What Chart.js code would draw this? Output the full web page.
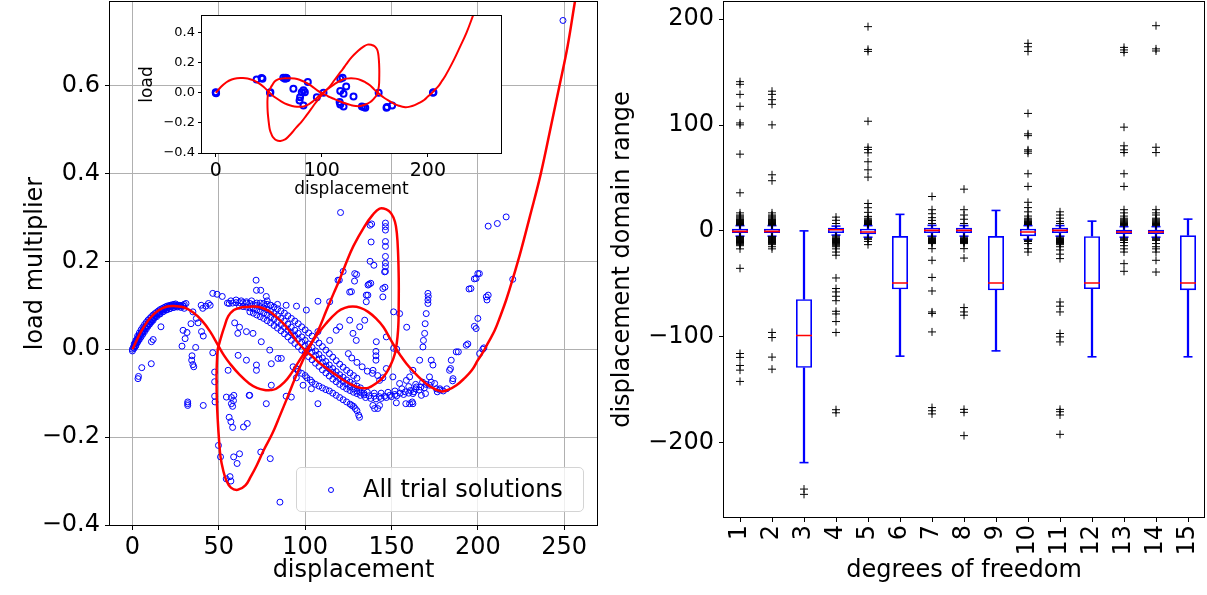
<!DOCTYPE html>
<html><head><meta charset="utf-8">
<script src="https://cdn.jsdelivr.net/npm/chart.js@4/dist/chart.umd.min.js"></script>
<style>
html,body{margin:0;padding:0;background:#fff;}
body{width:1207px;height:595px;position:relative;overflow:hidden;font-family:'DejaVu Sans';}
.layer{position:absolute;left:0;top:0;width:1207px;height:595px;}
#legend{position:absolute;left:296px;top:467px;width:288px;height:45px;box-sizing:border-box;border:1px solid #d4d4d4;border-radius:5px;background:rgba(255,255,255,0.8);}
#legend .mk{position:absolute;left:31px;top:19px;width:6px;height:6px;border:1px solid #0000ff;border-radius:50%;box-sizing:border-box;}
#legend .lt{position:absolute;left:66px;top:6px;font:24px 'DejaVu Sans';color:#000;line-height:30px;white-space:nowrap;}
</style></head><body>
<div class="layer"><canvas id="leftChart"></canvas></div>
<div class="layer"><canvas id="insetChart"></canvas></div>
<div id="legend"><span class="mk"></span><span class="lt" id="legendText"></span></div>
<div class="layer"><canvas id="rightChart"></canvas></div>
<script>
// ---------------- LEFT PANEL DATA ----------------
const trialLabel = 'All trial solutions';
const trialSolutions = [
 // along first rising branch
 [0,0],[0,-0.004],[0.5,0.004],[1,0.008],[1.5,0.012],[2,0.016],[2.5,0.02],[3,0.024],[3.5,0.027],[4,0.031],[5,0.037],[6,0.043],[7,0.049],[8,0.054],[9,0.059],[10,0.064],[11,0.068],[12,0.072],[13,0.076],[14,0.079],[15,0.082],[16,0.085],[17,0.088],[18,0.09],[19,0.092],[20,0.094],[21,0.096],[22,0.097],[23,0.098],[24,0.099],[25,0.099],[26,0.1],[27,0.1],[28,0.099],[29,0.1],[30,0.102],[31,0.104],
 [1,0.002],[2,0.008],[3,0.016],[4,0.022],[5,0.028],[6,0.034],[7,0.04],[8,0.046],[9,0.052],[10,0.057],[11,0.062],[12,0.066],[14,0.074],[16,0.08],[18,0.086],[20,0.09],[22,0.093],[24,0.095],[26,0.096],[28,0.095],[30,0.093],
 [1,0.012],[2,0.02],[3,0.03],[4,0.037],[5,0.044],[6,0.05],[7,0.056],[8,0.061],[9,0.066],[10,0.07],[11,0.074],[12,0.078],[13,0.081],[14,0.084],[15,0.087],[16,0.09],[17,0.092],[18,0.094],[19,0.096],[20,0.098],[21,0.099],[22,0.1],[23,0.101],[24,0.102],[25,0.103],
 [1.5,0.006],[2.5,0.014],[3.5,0.021],[4.5,0.03],[5.5,0.036],[6.5,0.042],[7.5,0.048],[8.5,0.053],[9.5,0.058],[10.5,0.062],[11.5,0.067],[12.5,0.071],[13.5,0.075],[15.5,0.08],[17.5,0.085],[19.5,0.089],[21.5,0.092],[23.5,0.095],[25.5,0.097],[27.5,0.098],[29.5,0.098],
 // scattered left
 [3.2,-0.067],[3.5,-0.062],[5.4,-0.042],[10.9,-0.033],[11,0.017],[12,0.022],[16.5,0.051],[28.7,0.007],[30.5,0.024],[31.6,0.038],[33.9,0.058],[29.3,0.043],[32,-0.12],[32,-0.124],[32,-0.128],[34.3,-0.025],[34.5,-0.015],[35,-0.035],[35.5,-0.04],[36.6,0.004],[37,0.07],[38,0.06],[40,0.04],[41,0.03],[39.8,0.1],[42.5,0.098],[40.7,0.093],[35,0.085],[41,-0.128],[46.5,-0.008],[47.6,-0.052],[47.6,-0.074],[47.6,-0.107],[47.8,-0.12],[46.5,0.127],[49,0.125],[52,0.12],[44,0.104],[45,0.1],
 // lower loop region
 [49.8,-0.219],[51,-0.245],[54.3,-0.295],[56.5,-0.29],[57,-0.3],[58.6,-0.245],[62,-0.238],[60.6,-0.26],[64.3,-0.177],[66.5,-0.169],[67.6,-0.105],[79.8,-0.249],[74.3,-0.234],[85.4,-0.348],[56,-0.155],[57,-0.165],[58,-0.178],[58,-0.13],[57.3,-0.11],[57.3,-0.124],[55.4,-0.048],[54.4,-0.109],[58.7,-0.105],[58.5,-0.117],
 // middle scattered
 [59.2,0.06],[62,0.05],[61,0.036],[66,0.04],[69.8,0.036],[74.6,0.017],[79.5,-0.002],[84.3,-0.021],[61.2,-0.014],[66,-0.025],[71.8,-0.036],[71.8,-0.048],[80.4,-0.033],[86.2,-0.021],[94.9,-0.044],[94.9,-0.065],[98.8,-0.082],[103.6,-0.09],[107.4,-0.124],[77.5,-0.124],[67.9,-0.105],[80.4,-0.082],[89,-0.107],[92,-0.109],
 [71.6,0.157],[71.8,0.134],[74.3,0.134],[77.5,0.12],[78,0.11],[80,0.1],[84,0.102],[89,0.1],[95,0.098],[100.7,0.089],[107.4,0.109],[114.2,0.108],[119,0.157],[125.8,0.13],[128.7,0.172],[136.4,0.146],[135.4,0.123],[135.4,0.108],[145,0.138],[146,0.176],[145,0.119],[151.2,0.085],[154.7,0.081],[158.8,0.05],
 [55,0.105],[57,0.11],[60,0.112],[63,0.11],[66,0.108],[69,0.11],
 [107.4,0.04],[114.2,0.02],[118,0.043],[120,0.051],[125.8,0.066],[127.7,0.036],[131.6,0.051],[129.6,0.02],[134.5,0.066],
 // high points
 [120.5,0.311],[137.6,0.282],[138.5,0.285],[146.5,0.287],[146.5,0.279],[146.5,0.271],[146.5,0.245],[146.5,0.234],[146.5,0.211],[146.5,0.196],[146.5,0.188],[146.5,0.177],[146.2,0.141],[138.2,0.244],[137.6,0.2],[139.8,0.191],[137,0.148],[138,0.15],[136.3,0.123],[119.8,0.157],[122,0.177],[129.8,0.17],[128.6,0.155],[126.8,0.131],[206,0.28],[211.3,0.286],[216.4,0.301],[200.9,0.172],[198,0.16],[194.9,0.137],[206,0.123],[220.2,0.159],[249.3,0.748],
 // dense descending bands
 [56,0.104],[60,0.106],[64,0.106],[68,0.104],[72,0.1],[76,0.094],[80,0.086],[84,0.076],[88,0.064],[92,0.05],[96,0.036],[100,0.02],[104,0.004],[108,-0.012],[112,-0.028],[116,-0.044],[120,-0.058],[124,-0.07],[128,-0.08],[132,-0.088],
 [58,0.105],[62,0.106],[66,0.105],[70,0.102],[74,0.097],[78,0.09],[82,0.081],[86,0.07],[90,0.057],[94,0.043],[98,0.028],[102,0.012],[106,-0.004],[110,-0.02],[114,-0.036],[118,-0.051],[122,-0.064],[126,-0.075],[130,-0.084],
 [62,0.098],[66,0.096],[70,0.092],[74,0.086],[78,0.078],[82,0.068],[86,0.056],[90,0.043],[94,0.03],[98,0.016],[102,0.001],[106,-0.014],[110,-0.03],[114,-0.045],[118,-0.06],[122,-0.073],[126,-0.085],[130,-0.095],[134,-0.1],
 [64,0.097],[68,0.094],[72,0.089],[76,0.082],[80,0.073],[84,0.062],[88,0.05],[92,0.037],[96,0.023],[100,0.008],[104,-0.007],[108,-0.022],[112,-0.038],[116,-0.053],[120,-0.067],[124,-0.079],[128,-0.09],[132,-0.098],
 [68,0.085],[72,0.078],[76,0.07],[80,0.06],[84,0.048],[88,0.035],[92,0.02],[96,0.006],[100,-0.009],[104,-0.024],[108,-0.039],[112,-0.054],[116,-0.068],[120,-0.08],[124,-0.09],[128,-0.098],[132,-0.105],
 [70,0.082],[74,0.074],[78,0.065],[82,0.054],[86,0.042],[90,0.028],[94,0.013],[98,-0.002],[102,-0.017],[106,-0.032],[110,-0.047],[114,-0.061],[118,-0.074],[122,-0.085],[126,-0.094],[130,-0.101],
 [72,0.105],[76,0.104],[80,0.1],[84,0.092],[88,0.082],[92,0.07],[96,0.058],[100,0.044],[104,0.03],[108,0.014],[112,-0.002],[116,-0.018],[120,-0.034],[124,-0.048],[128,-0.06],
 [74,0.105],[78,0.102],[82,0.096],[86,0.087],[90,0.076],[94,0.064],[98,0.051],[102,0.037],[106,0.022],[110,0.006],[114,-0.01],[118,-0.026],[122,-0.041],[126,-0.054],[130,-0.066],
 [93,-0.04],[96,-0.05],[100,-0.06],[103,-0.07],[106,-0.08],[110,-0.088],[114,-0.095],[118,-0.105],[122,-0.115],[126,-0.125],[128,-0.13],[130,-0.14],[131,-0.15],[131.5,-0.155],
 [95,-0.045],[98,-0.055],[101,-0.065],[104,-0.075],[108,-0.084],[112,-0.092],[116,-0.1],[120,-0.11],[124,-0.12],[127,-0.128],[129,-0.135],
 // bottom band
 [134,-0.104],[137,-0.106],[140,-0.107],[143,-0.108],[146,-0.107],[149,-0.105],[152,-0.103],[155,-0.1],[158,-0.097],[161,-0.094],[164,-0.09],[167,-0.086],[170,-0.08],[173,-0.075],
 [136,-0.098],[140,-0.1],[144,-0.1],[148,-0.098],[152,-0.095],[156,-0.09],[160,-0.085],[164,-0.08],[168,-0.075],
 [135,-0.11],[138,-0.112],[141,-0.113],[144,-0.112],[147,-0.11],[150,-0.108],[153,-0.106],[157,-0.103],[160,-0.1],[163,-0.097],[166,-0.093],[169,-0.088],[172,-0.082],[175,-0.078],[178,-0.09],[180,-0.095],[182,-0.09],
 [125,-0.01],[127,-0.02],[130,-0.03],[133,-0.04],[136,-0.05],[139,-0.055],[142,-0.06],[145,-0.065],
 [141.2,0.017],[147,0.028],[151.2,0.002],[153,0],
 // right region
 [141,-0.005],[141,-0.015],[141,-0.025],[139.3,-0.048],[143.1,-0.071],[147,-0.044],[150.8,-0.063],[154.7,-0.078],[158.6,-0.071],[160.5,-0.063],[162.4,-0.048],[164.4,-0.086],[162.4,-0.101],[160.5,-0.124],[162.4,-0.124],[152.8,-0.122],[143.1,-0.128],[140.2,-0.135],[142,-0.135],[139.2,-0.128],[166.3,-0.025],[168.2,0.005],[168.5,0.02],[169.2,0.036],[169.5,0.058],[170.1,0.081],[171.1,0.104],[171.1,0.112],[171.1,0.127],[171.3,0.12],[173,-0.025],[174,-0.036],[172,-0.063],[176,-0.09],[177.9,-0.093],[167.3,-0.105],[169.7,-0.101],[176.5,-0.097],[183.6,-0.048],[184.6,-0.025],[185.6,-0.067],[185.4,-0.072],[187.5,-0.006],[188.7,-0.006],[193.3,0.009],[194.2,0.012],[199,0.047],[200,0.07],[198,0.052],[196,0.138],[199,0.161],[200,0.172],[204.9,0.119],[205.3,0.112],[202.9,0],[201,-0.01],[203.5,0.003],[184.2,-0.044],[158.3,-0.124],[162,-0.12]
];
// red equilibrium path (main branch and closed loop)
const curveX = [0,5,10,15,20,25,30,35,40,45,50,53,56.5,62,67.6,72,76.5,80,83.2,88,92,96,101,106,112,118.7,123,127.6,132,136.5,141,145.4,149,152,155,158.7,163,167.6,172,178.7,183,187.6,192,196.5,200,203.1,206,209.8,213,216.4,220,225,230,236.5,243,247.3,252,256.4,259];
const curveY = [0,0.04,0.07,0.088,0.097,0.098,0.095,0.084,0.066,0.04,0.006,-0.014,-0.033,-0.058,-0.078,-0.088,-0.093,-0.093,-0.09,-0.075,-0.055,-0.03,0,0.028,0.058,0.085,0.094,0.097,0.094,0.085,0.07,0.05,0.025,0.005,-0.013,-0.033,-0.052,-0.07,-0.084,-0.096,-0.092,-0.082,-0.067,-0.048,-0.025,-0.006,0.015,0.043,0.075,0.112,0.157,0.225,0.3,0.4,0.52,0.6,0.69,0.795,0.85];
const loopX = [50.3,49.4,48.8,48.7,48.9,49.4,50.2,51,52.5,54.3,57,61,65.4,68.5,72,76,81,85.5,89.8,94,98.7,103,107.6,112,116.5,119.8,123.1,128,134.3,139,143.1,147,149.8,152,153.1,153.8,154.2,154.2,153.8,152,149,145.4,141,136.5,132,127.6,122,116.5,112,107.6,104,101,96,92,88,83.2,79,74.3,70,65.4,62,58.7,55.5,53.2,51.5,50.3];
const loopY = [0.013,0,-0.04,-0.07,-0.12,-0.162,-0.21,-0.245,-0.275,-0.298,-0.315,-0.32,-0.31,-0.29,-0.264,-0.23,-0.192,-0.15,-0.109,-0.068,-0.025,0.008,0.043,0.085,0.127,0.157,0.19,0.235,0.279,0.305,0.32,0.318,0.309,0.29,0.264,0.22,0.16,0.112,0.043,-0.01,-0.04,-0.063,-0.078,-0.088,-0.088,-0.082,-0.07,-0.055,-0.042,-0.029,-0.016,-0.006,0.014,0.036,0.056,0.074,0.087,0.095,0.097,0.096,0.094,0.089,0.075,0.051,0.03,0.013];
const leftXTicks = [0,50,100,150,200,250];
const leftYTicks = [-0.4,-0.2,0,0.2,0.4,0.6];
// inset
const insetPoints = [[0,0],[0,0.003],[0.3,-0.003],[38.5,0.089],[43.2,0.098],[44,0.094],[51.1,0],[51.5,0.003],[63.7,0.1],[65.3,0.093],[66,0.1],[67,0.097],[73.2,0.027],[82.7,0.016],[81.1,0.004],[84,0.004],[79.5,-0.029],[79,-0.051],[82.7,-0.084],[86.8,0.071],[95.3,-0.029],[101.6,0],[117.4,0.093],[119.6,0.1],[117.4,0.011],[120.5,-0.007],[123,0.042],[116.8,-0.062],[117.4,-0.078],[120.5,-0.091],[129.9,-0.024],[137.8,-0.091],[141,-0.1],[139.5,-0.095],[153.6,0],[161.5,-0.095],[161,-0.1],[166.3,-0.084],[204.8,0],[205.3,0.003]];
const insetXTicks = [0,100,200];
const insetYTicks = [-0.4,-0.2,0,0.2,0.4];

// ---------------- RIGHT PANEL DATA ----------------
const dofLabels = ['1','2','3','4','5','6','7','8','9','10','11','12','13','14','15'];
const boxQ1 =      [-2,-2,-129.4,-2,-3.3,-55.2,-2,-2,-56.1,-5,-2,-55,-3,-3,-56];
const boxQ3 =      [2,2,-64.6,3,2,-4.9,3,3,-4.9,2,3,-5,1,1,-4.2];
const boxMedian =  [-0.5,-0.5,-98.9,1,-1,-49.2,0.5,0.5,-49.2,-1,0.5,-49.2,-1,-1,-49.2];
const whiskerLow = [-5,-5,-219,-4,-6,-118.4,-5,-5,-113.4,-8,-5,-119,-6,-6,-119];
const whiskerHigh= [5,5,0,4.5,5,15.6,5.2,5,19.3,5,5,9.2,4,4,11.1];
const outliersByDof = [
 [141,138.5,129,117.7,102,100.2,72.5,36,17,15,14,13,12,11,10.5,10,9.5,9,8.5,8,7.5,7,6.5,6,5.5,-5.5,-6,-6.5,-7,-7.5,-8,-8.5,-9,-9.5,-10,-10.5,-11,-12,-13,-14,-17,-35.4,-115.9,-119.6,-127.2,-131.6,-142.3],
 [132,129,124,119.6,100.2,53,47.4,17,15,14,13,12,11,10.5,10,9.5,9,8.5,8,7.5,7,6.5,6,5.5,-5.5,-6,-6.5,-7,-7.5,-8,-8.5,-9,-9.5,-10,-11,-12,-13,-15,-17,-96,-100.8,-119.3,-130.7],
 [-244,-249],
 [13,10,7,-5,-6,-7,-7.5,-8,-8.5,-9,-9.5,-10,-11,-12,-13,-14,-15,-17,-20,-23,-44.5,-54.5,-57.7,-61.8,-66,-76,-78.5,-85.7,-96,-169,-171.9],
 [193,171.5,169.6,103.6,79,76.9,73.8,65.3,57.7,50.8,25.9,21.9,17.5,13.7,12,11,10,9.5,9,8.5,8,7.5,7,6.5,6,-7,-8,-10,-13],
 [],
 [32.5,20,16.2,12.5,9.9,7,-6,-7,-7.5,-8,-8.5,-9,-9.5,-10,-11,-12,-16.8,-27.8,-44,-56.8,-76.6,-78,-95.5,-167,-170,-173],
 [39.4,20,15,11,7,-6,-7,-7.5,-8,-8.5,-9,-9.5,-10,-11,-12,-16.8,-25.7,-72.5,-76.6,-79.7,-168.7,-171.5,-193.5],
 [],
 [177.2,174,169.6,111,91.7,90,76.6,75.3,73.4,54,42,27,22,18,14,12,11,10,9,8.5,8,7.5,7,6,-9,-10,-12,-16.8,-20],
 [18,15,12,9,7,-6,-7,-7.5,-8,-8.5,-9,-9.5,-10,-11,-12,-13,-15,-18,-22,-26.2,-67.2,-71.2,-76.6,-97,-100.2,-104.9,-168.7,-170.9,-174,-192.3],
 [],
 [173.4,171,168.7,98,80.4,76.6,74,54,42,20,17,14,12,11,10,9,8,7,6,5,-7,-8,-9,-11,-14,-17,-20,-31,-38.2],
 [193.9,172,170,79,74,20,17,15,12,11,10,9,8,7,6,5,-7,-8,-9,-12,-15,-17,-20,-27.8,-38.9],
 []
];
const rightYTicks = [-200,-100,0,100,200];

// ---------------- HELPERS ----------------
Chart.defaults.font.family = 'DejaVu Sans';
Chart.defaults.color = '#000';
const FONT = 'DejaVu Sans';
const toXY = (xs, ys) => xs.map((x, i) => ({x: x, y: ys[i]}));
const pairs = arr => arr.map(p => ({x: p[0], y: p[1]}));
const minus = s => s.replace('-', '\u2212');
const fmt1 = v => minus((Math.abs(v) < 1e-9 ? 0 : v).toFixed(1));
const fmt0 = v => minus(String(Math.round(v)));
const fixTicks = arr => (s => { s.ticks = arr.map(v => ({value: v})); });
const fitY = w => (s => { s.width = w; s.paddingTop = 0; s.paddingBottom = 0; });
const fitX = h => (s => { s.height = h; s.paddingLeft = 0; s.paddingRight = 0; });
const framePlugin = {
  id: 'frame',
  afterDatasetsDraw(chart) {
    const {ctx, chartArea: a} = chart;
    ctx.save();
    ctx.strokeStyle = '#000';
    ctx.lineWidth = 1;
    const l = Math.round(a.left) - 0.5, t = Math.round(a.top) - 0.5;
    const r = Math.round(a.right) + 0.5, b = Math.round(a.bottom) + 0.5;
    ctx.strokeRect(l, t, r - l, b - t);
    ctx.restore();
  }
};
const whiteBg = {
  id: 'whiteBg',
  beforeDraw(chart) {
    const {ctx, chartArea: a} = chart;
    ctx.save();
    ctx.fillStyle = '#fff';
    ctx.fillRect(a.left, a.top, a.right - a.left, a.bottom - a.top);
    ctx.restore();
  }
};
const baseOpts = {
  responsive: true, maintainAspectRatio: false, animation: false, events: [],
  plugins: {legend: {display: false}, tooltip: {enabled: false}}
};
document.getElementById('legendText').textContent = trialLabel;

// ---------------- LEFT CHART ----------------
new Chart(document.getElementById('leftChart'), {
  type: 'scatter',
  data: {datasets: [
    {label: trialLabel, data: pairs(trialSolutions), pointStyle: 'circle', pointRadius: 3, pointBorderWidth: 1,
     borderColor: '#0000ff', pointBorderColor: '#0000ff', backgroundColor: 'rgba(0,0,0,0)', pointBackgroundColor: 'rgba(0,0,0,0)', order: 2},
    {label: 'path', data: toXY(curveX, curveY), showLine: true, pointRadius: 0, borderColor: '#ff0000', borderWidth: 2.5, tension: 0.4, order: 1},
    {label: 'loop', data: toXY(loopX, loopY), showLine: true, pointRadius: 0, borderColor: '#ff0000', borderWidth: 2.5, tension: 0.4, order: 0}
  ]},
  options: Object.assign({}, baseOpts, {
    layout: {autoPadding: false, padding: {left: 0, right: 610, top: 2, bottom: 0}},
    scales: {
      x: {type: 'linear', min: -13, max: 269, afterBuildTicks: fixTicks(leftXTicks), afterFit: fitX(70),
          grid: {color: '#b0b0b0', lineWidth: 1, tickColor: '#000', tickLength: 5, tickWidth: 1},
          border: {display: false},
          ticks: {color: '#000', font: {family: FONT, size: 24}, padding: 3, maxRotation: 0, autoSkip: false, callback: v => fmt0(v)},
          title: {display: true, text: 'displacement', color: '#000', font: {family: FONT, size: 24}, padding: {top: 0, bottom: 10}}},
      y: {type: 'linear', min: -0.4, max: 0.79, afterBuildTicks: fixTicks(leftYTicks), afterFit: fitY(110),
          grid: {color: '#b0b0b0', lineWidth: 1, tickColor: '#000', tickLength: 5, tickWidth: 1},
          border: {display: false},
          ticks: {color: '#000', font: {family: FONT, size: 24}, padding: 5, autoSkip: false, callback: v => fmt1(v)},
          title: {display: true, text: 'load multiplier', color: '#000', font: {family: FONT, size: 24}, padding: {top: 21, bottom: 0}}}
    }
  }),
  plugins: [framePlugin]
});

// ---------------- INSET CHART ----------------
new Chart(document.getElementById('insetChart'), {
  type: 'scatter',
  data: {datasets: [
    {label: trialLabel, data: pairs(insetPoints), pointStyle: 'circle', pointRadius: 3, pointBorderWidth: 2,
     borderColor: '#0000ff', pointBorderColor: '#0000ff', backgroundColor: 'rgba(0,0,0,0)', pointBackgroundColor: 'rgba(0,0,0,0)', order: 2},
    {label: 'path', data: toXY(curveX, curveY), showLine: true, pointRadius: 0, borderColor: '#ff0000', borderWidth: 2, tension: 0.4, order: 1},
    {label: 'loop', data: toXY(loopX, loopY), showLine: true, pointRadius: 0, borderColor: '#ff0000', borderWidth: 2, tension: 0.4, order: 0}
  ]},
  options: Object.assign({}, baseOpts, {
    layout: {autoPadding: false, padding: {left: 130, right: 706, top: 16, bottom: 392}},
    scales: {
      x: {type: 'linear', min: -13, max: 269, afterBuildTicks: fixTicks(insetXTicks), afterFit: fitX(50),
          grid: {drawOnChartArea: false, tickColor: '#000', tickLength: 4, tickWidth: 1},
          border: {display: false},
          ticks: {color: '#000', font: {family: FONT, size: 19}, padding: 3, maxRotation: 0, autoSkip: false, callback: v => fmt0(v)},
          title: {display: true, text: 'displacement', color: '#000', font: {family: FONT, size: 17}, padding: {top: 0, bottom: 3}}},
      y: {type: 'linear', min: -0.4, max: 0.51, afterBuildTicks: fixTicks(insetYTicks), afterFit: fitY(72),
          grid: {drawOnChartArea: false, tickColor: '#000', tickLength: 4, tickWidth: 1},
          border: {display: false},
          ticks: {color: '#000', font: {family: FONT, size: 13}, padding: 3, autoSkip: false, callback: v => fmt1(v)},
          title: {display: true, text: 'load', color: '#000', font: {family: FONT, size: 17}, padding: {top: 7, bottom: 0}}}
    }
  }),
  plugins: [whiteBg, framePlugin]
});

// ---------------- RIGHT CHART ----------------
const capPoints = [];
const medianPoints = [];
const outlierPoints = [];
dofLabels.forEach((lab, i) => {
  capPoints.push({x: lab, y: whiskerLow[i]}, {x: lab, y: whiskerHigh[i]});
  medianPoints.push({x: lab, y: boxMedian[i]});
  outliersByDof[i].forEach(v => outlierPoints.push({x: lab, y: v}));
});
new Chart(document.getElementById('rightChart'), {
  type: 'bar',
  data: {labels: dofLabels, datasets: [
    {type: 'bar', label: 'box', data: dofLabels.map((_, i) => [boxQ1[i], boxQ3[i]]), backgroundColor: 'rgba(0,0,0,0)',
     borderColor: '#0000ff', borderWidth: 1.6, borderSkipped: false, barPercentage: 0.5, categoryPercentage: 1, grouped: false, order: 5},
    {type: 'bar', label: 'lower whisker', data: dofLabels.map((_, i) => [whiskerLow[i], boxQ1[i]]), backgroundColor: '#0000ff',
     borderWidth: 0, barThickness: 1.6, grouped: false, order: 6},
    {type: 'bar', label: 'upper whisker', data: dofLabels.map((_, i) => [boxQ3[i], whiskerHigh[i]]), backgroundColor: '#0000ff',
     borderWidth: 0, barThickness: 1.6, grouped: false, order: 6},
    {type: 'line', label: 'caps', data: capPoints, showLine: false, pointStyle: 'line', pointRadius: 4.5,
     borderColor: '#0000ff', pointBorderColor: '#0000ff', pointBorderWidth: 1.6, order: 4},
    {type: 'line', label: 'median', data: medianPoints, showLine: false, pointStyle: 'line', pointRadius: 8,
     borderColor: '#ff0000', pointBorderColor: '#ff0000', pointBorderWidth: 1.6, order: 1},
    {type: 'line', label: 'outliers', data: outlierPoints, showLine: false, pointStyle: 'cross', pointRadius: 4,
     borderColor: '#000', pointBorderColor: '#000', pointBorderWidth: 1, order: 2}
  ]},
  options: Object.assign({}, baseOpts, {
    layout: {autoPadding: false, padding: {left: 600, right: 3, top: 2, bottom: 0}},
    scales: {
      x: {type: 'category', offset: true, afterFit: fitX(78),
          grid: {offset: false, drawOnChartArea: false, tickColor: '#000', tickLength: 5, tickWidth: 1},
          border: {display: false},
          ticks: {color: '#000', font: {family: FONT, size: 24}, padding: 3, minRotation: 90, maxRotation: 90, autoSkip: false},
          title: {display: true, text: 'degrees of freedom', color: '#000', font: {family: FONT, size: 24}, padding: {top: 0, bottom: 10}}},
      y: {type: 'linear', min: -270.4, max: 216.3, afterBuildTicks: fixTicks(rightYTicks), afterFit: fitY(124),
          grid: {drawOnChartArea: false, tickColor: '#000', tickLength: 5, tickWidth: 1},
          border: {display: false},
          ticks: {color: '#000', font: {family: FONT, size: 24}, padding: 5, autoSkip: false, callback: v => fmt0(v)},
          title: {display: true, text: 'displacement domain range', color: '#000', font: {family: FONT, size: 24}, padding: {top: 8, bottom: 0}}}
    }
  }),
  plugins: [framePlugin]
});
</script>
</body></html>
